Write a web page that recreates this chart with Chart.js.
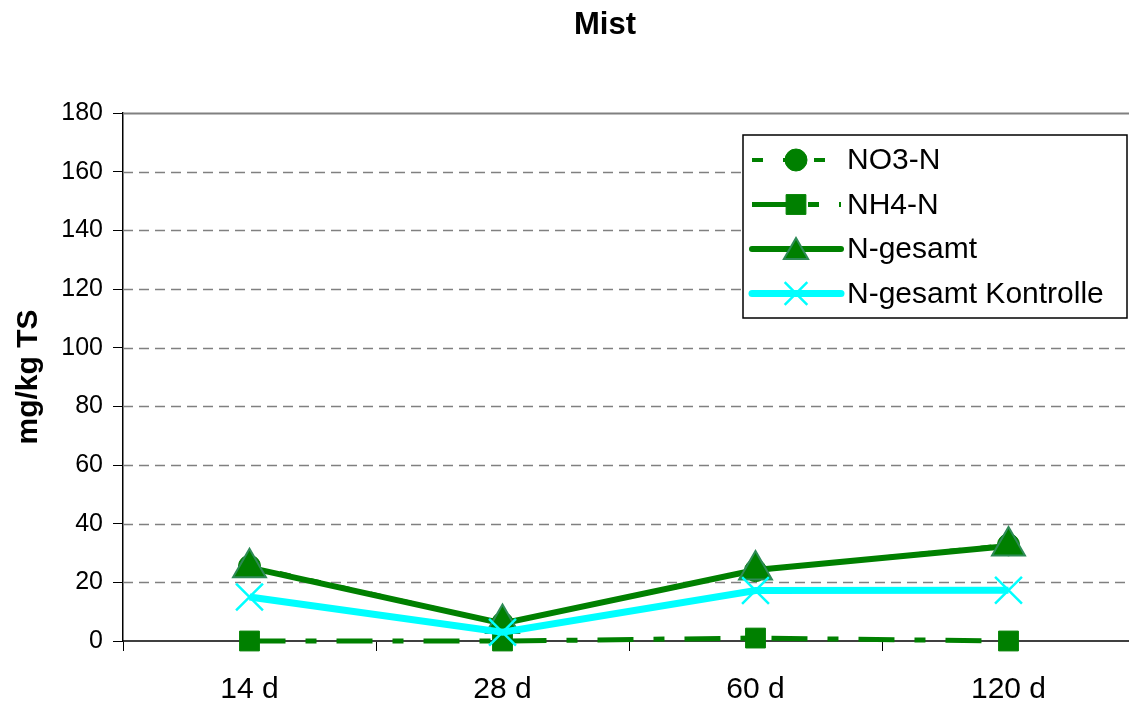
<!DOCTYPE html>
<html>
<head>
<meta charset="utf-8">
<script src="https://cdn.jsdelivr.net/npm/chart.js@4"></script>
<style>
  html, body { margin: 0; padding: 0; background: #fff; overflow: hidden; }
  #wrap { width: 1135px; height: 704px; }
</style>
</head>
<body>
<div id="wrap"><canvas id="mistChart" width="1135" height="704"></canvas></div>
<script>
// ---- data ----
const categories = ['14 d', '28 d', '60 d', '120 d'];
const no3Values = [25.5, 6, 24, 32.8];
const nh4Values = [0, 0, 1, 0];
const nGesamtValues = [25, 6, 24.2, 32.4];
const kontrolleValues = [15, 3, 17.2, 17.3];
const yTicks = [0, 20, 40, 60, 80, 100, 120, 140, 160, 180];

const green = '#008000';
const cyan = '#00FFFF';
const fontFamily = '"Liberation Sans", Arial, sans-serif';

// ---- title, gridlines, legend ----
const decorPlugin = {
  id: 'decor',
  beforeDatasetsDraw(chart) {
    const ctx = chart.ctx;
    const area = chart.chartArea;
    const y = chart.scales.y;
    ctx.save();
    ctx.strokeStyle = '#808080';
    yTicks.forEach(v => {
      if (v === 0) return;
      const py = Math.round(y.getPixelForValue(v)) + 0.5;
      ctx.lineWidth = v === 180 ? 2 : 1.3;
      ctx.setLineDash(v === 180 ? [] : [10, 6]);
      ctx.beginPath();
      ctx.moveTo(area.left, py);
      ctx.lineTo(area.right, py);
      ctx.stroke();
    });
    ctx.restore();
  },
  afterDraw(chart) {
    const ctx = chart.ctx;
    ctx.save();
    // title
    ctx.fillStyle = '#000';
    ctx.font = 'bold 31px ' + fontFamily;
    ctx.textAlign = 'center';
    ctx.textBaseline = 'middle';
    ctx.fillText('Mist', 605, 25);

    // legend box
    const bx = 743, by = 135, bw = 384, bh = 183;
    ctx.fillStyle = '#fff';
    ctx.fillRect(bx, by, bw, bh);
    ctx.strokeStyle = '#000';
    ctx.lineWidth = 1.5;
    ctx.strokeRect(bx, by, bw, bh);

    const legendMarkers = [
      { pointStyle: 'circle', radius: 11 },
      { pointStyle: 'rect', radius: 14 },
      { pointStyle: 'triangle', radius: 14 },
      { pointStyle: 'crossRot', radius: 16 }
    ];
    chart.data.datasets.forEach((ds, i) => {
      const ry = 160 + i * 44.5;
      ctx.save();
      ctx.strokeStyle = ds.borderColor;
      ctx.lineWidth = ds.borderWidth;
      ctx.setLineDash(ds.borderDash || []);
      ctx.lineCap = ds.borderDash ? 'butt' : 'round';
      ctx.beginPath();
      ctx.moveTo(752, ry);
      ctx.lineTo(841, ry);
      ctx.stroke();
      ctx.restore();

      const m = legendMarkers[i];
      ctx.save();
      ctx.fillStyle = ds.pointBackgroundColor;
      ctx.strokeStyle = ds.pointBorderColor;
      ctx.lineWidth = ds.pointBorderWidth;
      Chart.helpers.drawPoint(ctx, {
        pointStyle: m.pointStyle,
        radius: m.radius,
        rotation: 0,
        borderWidth: ds.pointBorderWidth
      }, 796, m.pointStyle === 'triangle' ? ry + 3 : ry);
      ctx.restore();

      ctx.fillStyle = '#000';
      ctx.font = '30px ' + fontFamily;
      ctx.textAlign = 'left';
      ctx.textBaseline = 'middle';
      ctx.fillText(ds.label, 847, ry + 1);
    });
    ctx.restore();
  }
};

const datasets = [
  {
    label: 'NO3-N',
    data: no3Values,
    borderColor: green,
    borderWidth: 4,
    borderDash: [11, 20],
    pointStyle: 'circle',
    pointRadius: 11,
    pointBackgroundColor: green,
    pointBorderColor: green,
    pointBorderWidth: 1,
    order: 4
  },
  {
    label: 'NH4-N',
    data: nh4Values,
    borderColor: green,
    borderWidth: 5,
    borderDash: [36, 20, 11, 20],
    pointStyle: 'rect',
    pointRadius: 14,
    pointBackgroundColor: green,
    pointBorderColor: green,
    pointBorderWidth: 1,
    order: 3
  },
  {
    label: 'N-gesamt',
    data: nGesamtValues,
    borderColor: green,
    borderWidth: 6,
    pointStyle: 'triangle',
    pointRadius: 19,
    pointBackgroundColor: green,
    pointBorderColor: '#2E8B57',
    pointBorderWidth: 2,
    order: 2
  },
  {
    label: 'N-gesamt Kontrolle',
    data: kontrolleValues,
    borderColor: cyan,
    borderWidth: 7,
    pointStyle: 'crossRot',
    pointRadius: 19,
    pointBackgroundColor: cyan,
    pointBorderColor: cyan,
    pointBorderWidth: 2.5,
    order: 1
  }
];
datasets.forEach(ds => {
  ds.tension = 0;
  ds.fill = false;
  ds.clip = false;
  ds.pointHoverRadius = ds.pointRadius;
});

new Chart(document.getElementById('mistChart'), {
  type: 'line',
  data: { labels: categories, datasets: datasets },
  options: {
    responsive: false,
    animation: false,
    devicePixelRatio: 1,
    layout: { autoPadding: false, padding: { top: 113, left: 0, right: 0, bottom: 0 } },
    plugins: {
      legend: { display: false },
      title: { display: false },
      tooltip: { enabled: false }
    },
    scales: {
      x: {
        offset: true,
        grid: {
          offset: true,
          drawOnChartArea: false,
          drawTicks: true,
          tickLength: 10,
          color: '#000'
        },
        border: { color: '#404040', width: 2 },
        ticks: {
          color: '#000',
          padding: 21,
          font: { size: 30, family: fontFamily }
        },
        afterFit(scale) { scale.height = 63; }
      },
      y: {
        min: 0,
        max: 180,
        afterBuildTicks(scale) { scale.ticks = yTicks.map(v => ({ value: v })); },
        grid: {
          drawOnChartArea: false,
          drawTicks: true,
          tickLength: 10,
          color: '#000'
        },
        border: { color: '#000', width: 1.5 },
        ticks: {
          color: '#000',
          padding: 10,
          font: { size: 25, family: fontFamily }
        },
        title: {
          display: true,
          text: 'mg/kg TS',
          color: '#000',
          font: { size: 30, weight: 'bold', family: fontFamily, lineHeight: 1 },
          padding: { top: 14, bottom: 0 }
        },
        afterFit(scale) { scale.width = 123; }
      }
    }
  },
  plugins: [decorPlugin]
});
</script>
</body>
</html>
